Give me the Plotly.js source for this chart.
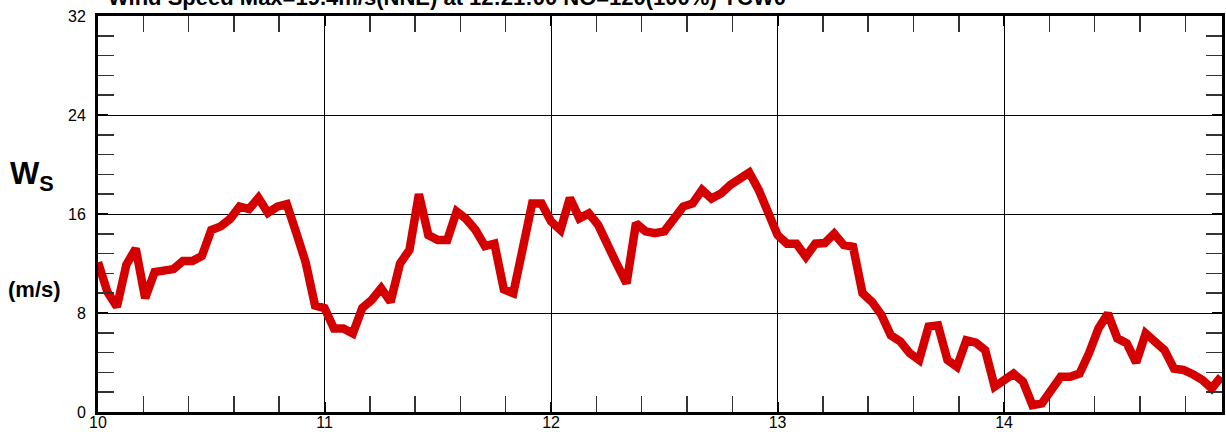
<!DOCTYPE html>
<html>
<head>
<meta charset="utf-8">
<script src="https://cdn.plot.ly/plotly-3.0.1.min.js"></script>
<style>
  html, body { margin: 0; padding: 0; background: #fff; }
  #chart { width: 1226px; height: 432px; }
</style>
</head>
<body>
<div id="chart"></div>
<script>
// Sampling: 120 observations, every 2.5 minutes, from 10:00
const startHour = 10;
const stepMinutes = 2.5;

// Wind speed (m/s)
const windSpeed = [
  12.1, 9.7, 8.5, 11.9, 13.2, 9.2, 11.3, 11.5, 11.55, 12.2,
  12.2, 12.6, 14.7, 15.0, 15.6, 16.6, 16.4, 17.3, 16.1, 16.6,
  16.8, 14.5, 12.1, 8.6, 8.4, 6.75, 6.75, 6.35, 8.4, 9.05,
  10.0, 8.9, 12.0, 13.1, 17.6, 14.3, 13.9, 13.9, 16.2, 15.6,
  14.7, 13.4, 13.6, 9.9, 9.6, 13.2, 16.85, 16.85, 15.4, 14.7,
  17.3, 15.65, 16.05, 15.1, 13.35, 11.9, 10.4, 15.25, 14.6, 14.45,
  14.6, 15.5, 16.6, 16.85, 17.95, 17.25, 17.65, 18.35, 18.95, 19.35,
  17.95, 16.3, 14.3, 13.6, 13.6, 12.55, 13.6, 13.65, 14.4, 13.5,
  13.35, 9.6, 8.9, 7.85, 6.2, 5.7, 4.75, 4.2, 6.9, 7.0,
  4.2, 3.65, 5.8, 5.6, 5.0, 2.05, 2.65, 3.1, 2.45, 0.55,
  0.7, 1.8, 2.85, 2.85, 3.1, 4.75, 6.75, 7.95, 5.95, 5.55,
  4.0, 6.35, 5.7, 5.0, 3.5, 3.4, 3.05, 2.6, 1.9, 2.85
];

const hours = windSpeed.map((_, i) => startHour + i * stepMinutes / 60);

const titleText = "Wind Speed Max=19.4m/s(NNE) at 12:21:00 NO=120(100%) YCW0";
const yLabelMain = "W<sub>S</sub>";
const yLabelUnit = "(m/s)";

const FONT = "Liberation Sans, Arial, Helvetica, sans-serif";

const trace = {
  x: hours,
  y: windSpeed,
  type: "scatter",
  mode: "lines",
  line: { color: "rgb(212,0,0)", width: 8.5 },
  hoverinfo: "skip"
};

const axisCommon = {
  showline: true,
  linecolor: "#000",
  linewidth: 3,
  mirror: "allticks",
  ticks: "inside",
  ticklen: 10,
  tickwidth: 2,
  tickcolor: "#000",
  showgrid: true,
  gridcolor: "#000",
  gridwidth: 1,
  zeroline: false,
  tickfont: { family: FONT, size: 16, color: "#000" },
  fixedrange: true
};

const layout = {
  width: 1226,
  height: 432,
  margin: { l: 98, r: 4, t: 16, b: 20 },
  paper_bgcolor: "#fff",
  plot_bgcolor: "#fff",
  showlegend: false,
  xaxis: Object.assign({}, axisCommon, {
    range: [10, 14.962],
    tick0: 10,
    dtick: 1,
    ticklabelstandoff: -6,
    minor: { dtick: 0.2, ticks: "inside", ticklen: 16, tickwidth: 1.5, tickcolor: "#333", showgrid: false }
  }),
  yaxis: Object.assign({}, axisCommon, {
    range: [0, 32],
    tick0: 0,
    dtick: 8,
    ticklabelstandoff: 6,
    minor: { dtick: 1.6, ticks: "inside", ticklen: 16, tickwidth: 1.5, tickcolor: "#333", showgrid: false }
  }),
  annotations: [
    {
      text: "<b>" + titleText + "</b>",
      xref: "paper", yref: "paper",
      x: 0.0068, y: 1.047,
      xanchor: "left", yanchor: "middle",
      showarrow: false,
      font: { family: FONT, size: 22, color: "#000" }
    },
    {
      text: "<b>" + yLabelMain + "</b>",
      xref: "paper", yref: "paper",
      x: -0.0805, y: 0.596,
      xanchor: "left", yanchor: "middle",
      showarrow: false,
      font: { family: FONT, size: 31, color: "#000" }
    },
    {
      text: "<b>" + yLabelUnit + "</b>",
      xref: "paper", yref: "paper",
      x: -0.0815, y: 0.3106,
      xanchor: "left", yanchor: "middle",
      showarrow: false,
      font: { family: FONT, size: 22, color: "#000" }
    }
  ]
};

Plotly.newPlot("chart", [trace], layout, { displayModeBar: false, staticPlot: true });
</script>
</body>
</html>
